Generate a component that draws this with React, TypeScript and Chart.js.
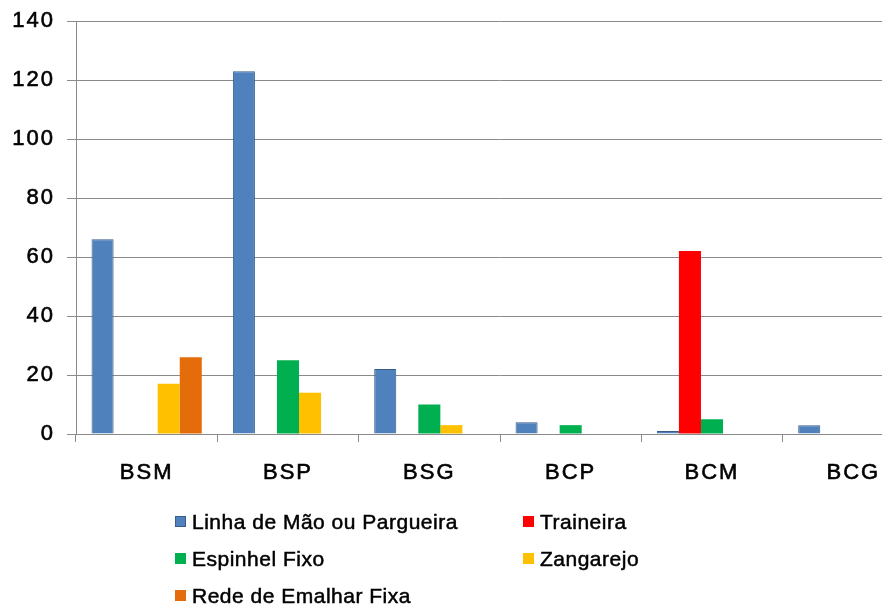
import React, { useEffect, useRef } from 'react';
import { Chart, registerables } from 'chart.js';

Chart.register(...registerables);

const categories = ['BSM', 'BSP', 'BSG', 'BCP', 'BCM', 'BCG'];
const linhaDeMao = [66, 123, 22, 4, 1, 3];
const traineira = [0, 0, 0, 0, 62, 0];
const espinhelFixo = [0, 25, 10, 3, 5, 0];
const zangarejo = [17, 14, 3, 0, 0, 0];
const redeEmalharFixa = [26, 0, 0, 0, 0, 0];

const seriesNames = [
  'Linha de Mão ou Pargueira',
  'Traineira',
  'Espinhel Fixo',
  'Zangarejo',
  'Rede de Emalhar Fixa',
];
const seriesValues = [linhaDeMao, traineira, espinhelFixo, zangarejo, redeEmalharFixa];
const seriesColors = ['#4F81BD', '#FF0000', '#00B050', '#FFC000', '#E46C0A'];
const seriesBorders = ['#385D8A', '#FF0000', '#00B050', '#FFC000', '#E46C0A'];
const seriesBorderWidths = [1, 0, 0, 0, 0];

const yMin = 0;
const yMax = 140;
const yStep = 20;

const FONT = '"Liberation Sans", Arial, sans-serif';
const GRID = '#8A8A8A';

const spacingPlugin = {
  id: 'tickSpacing',
  beforeDraw(chart: any) {
    chart.ctx.letterSpacing = '2px';
  },
  afterDraw(chart: any) {
    chart.ctx.letterSpacing = '0px';
  },
};

export default function App() {
  const canvasRef = useRef<HTMLCanvasElement | null>(null);

  useEffect(() => {
    const canvas = canvasRef.current;
    if (!canvas) return;
    const chart = new Chart(canvas, {
      type: 'bar',
      data: {
        labels: categories,
        datasets: seriesNames.map((name, i) => ({
          label: name,
          data: seriesValues[i],
          backgroundColor: seriesColors[i],
          borderColor: seriesBorders[i],
          borderWidth: seriesBorderWidths[i],
          barPercentage: 1,
          categoryPercentage: 0.78,
        })),
      },
      plugins: [spacingPlugin],
      options: {
        responsive: false,
        animation: false,
        layout: { padding: { top: 21, right: 6, left: 0, bottom: 0 } },
        plugins: {
          legend: { display: false },
          tooltip: { enabled: false },
        },
        scales: {
          x: {
            grid: {
              offset: true,
              drawOnChartArea: false,
              drawTicks: true,
              tickLength: 8,
              color: GRID,
              lineWidth: 1,
            },
            border: { display: true, color: GRID, width: 1 },
            ticks: {
              color: '#000',
              padding: 18,
              font: { family: FONT, size: 22 },
              textStrokeColor: '#000',
              textStrokeWidth: 0.6,
            },
            afterFit: (scale: any) => {
              scale.height = 171;
            },
          },
          y: {
            min: yMin,
            max: yMax,
            ticks: {
              stepSize: yStep,
              color: '#000',
              padding: 12,
              font: { family: FONT, size: 22 },
              textStrokeColor: '#000',
              textStrokeWidth: 0.6,
            },
            grid: {
              color: GRID,
              lineWidth: 1,
              tickLength: 9,
              drawTicks: true,
            },
            border: { display: true, color: GRID, width: 1 },
            afterFit: (scale: any) => {
              scale.width = 76;
              scale.paddingTop = 0;
              scale.paddingBottom = 0;
            },
          },
        },
      },
    });
    return () => chart.destroy();
  }, []);

  return (
    <div
      style={{
        position: 'fixed',
        left: 0,
        top: 0,
        width: 882,
        height: 605,
        overflow: 'hidden',
        background: '#fff',
      }}
    >
      <canvas ref={canvasRef} width={930} height={605} style={{ width: 930, height: 605, display: 'block' }} />
      <div
        style={{
          position: 'absolute',
          left: 175,
          top: 503,
          display: 'grid',
          gridTemplateColumns: '348px auto',
          gridAutoRows: '37px',
          fontFamily: FONT,
          fontSize: 21,
          color: '#000',
          letterSpacing: '0.5px',
          WebkitTextStroke: '0.5px #000',
        }}
      >
        {seriesNames.map((name, i) => (
          <div key={name} style={{ display: 'flex', alignItems: 'center', whiteSpace: 'nowrap' }}>
            <span
              style={{
                display: 'inline-block',
                width: 11,
                height: 11,
                boxSizing: 'border-box',
                background: seriesColors[i],
                border: i === 0 ? `1px solid ${seriesBorders[i]}` : 'none',
                marginRight: 6,
              }}
            />
            <span>{name}</span>
          </div>
        ))}
      </div>
    </div>
  );
}
